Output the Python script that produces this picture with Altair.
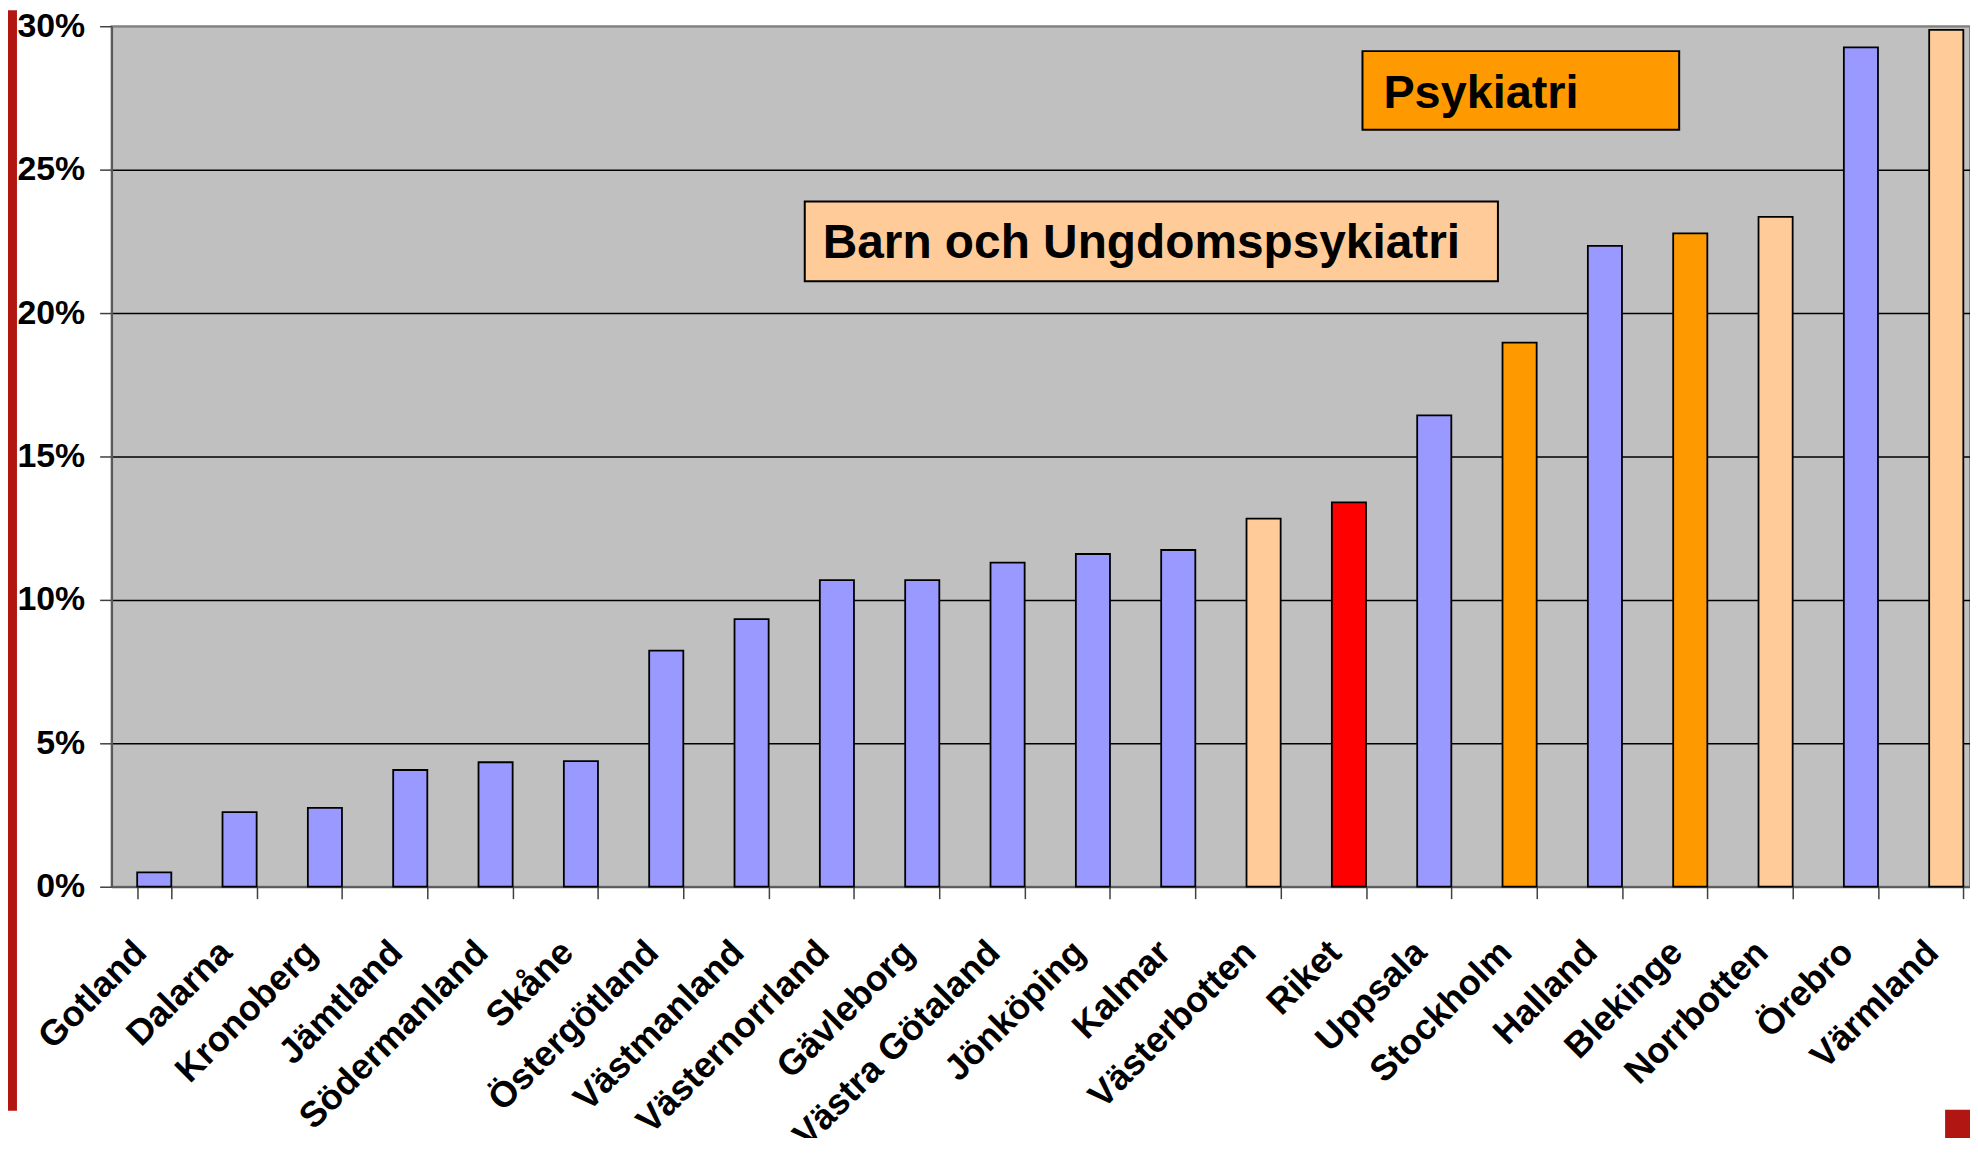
import altair as alt
import pandas as pd

regions = ["Gotland", "Dalarna", "Kronoberg", "Jämtland", "Södermanland", "Skåne",
           "Östergötland", "Västmanland", "Västernorrland", "Gävleborg", "Västra Götaland",
           "Jönköping", "Kalmar", "Västerbotten", "Riket", "Uppsala", "Stockholm",
           "Halland", "Blekinge", "Norrbotten", "Örebro", "Värmland"]
values = [0.005, 0.026, 0.0275, 0.0407, 0.0434, 0.0438,
          0.0823, 0.0933, 0.1069, 0.1069, 0.113,
          0.116, 0.1174, 0.1283, 0.134, 0.1643, 0.1897,
          0.2234, 0.2278, 0.2335, 0.2926, 0.2987]
groups = ["Övrig", "Övrig", "Övrig", "Övrig", "Övrig", "Övrig",
          "Övrig", "Övrig", "Övrig", "Övrig", "Övrig",
          "Övrig", "Övrig", "BUP", "Riket", "Övrig", "Psykiatri",
          "Övrig", "Psykiatri", "BUP", "Övrig", "BUP"]
group_colors = {"Övrig": "#9999FF", "BUP": "#FFCC99", "Psykiatri": "#FF9900", "Riket": "#FF0000"}
y_ticks = [0, 0.05, 0.10, 0.15, 0.20, 0.25, 0.30]

df = pd.DataFrame({"region": regions, "value": values, "group": groups})
df["color"] = df["group"].map(group_colors)

FONT = "Liberation Sans"

bars = alt.Chart(df).mark_bar(stroke="black", strokeWidth=1.8).encode(
    x=alt.X("region:N", sort=regions,
            scale=alt.Scale(paddingInner=0.6, paddingOuter=0.3, range=[0, 1885]),
            axis=alt.Axis(title=None, labelAngle=-45, labelAlign="right", labelBaseline="top",
                          labelFontSize=36, labelFontWeight="bold", labelFont=FONT,
                          labelColor="black", labelPadding=36, labelOffset=-26,
                          labelLimit=500, labelOverlap=False,
                          tickBand="extent", tickSize=12, tickColor="#404040", tickWidth=1.5,
                          domainColor="#595959", domainWidth=2)),
    y=alt.Y("value:Q",
            scale=alt.Scale(domain=[0, 0.30], nice=False),
            axis=alt.Axis(title=None, values=y_ticks, format=".0%",
                          labelFontSize=34, labelFontWeight="bold", labelFont=FONT,
                          labelColor="black", labelPadding=15,
                          tickSize=12, tickColor="#404040", tickWidth=1.5,
                          domainColor="#595959", domainWidth=2,
                          grid=True,
                          gridColor={"condition": {"test": "datum.value >= 0.3 || datum.value <= 0",
                                                   "value": "#808080"}, "value": "black"},
                          gridWidth=1.5, gridOpacity=1)),
    color=alt.Color("color:N", scale=None),
)

one = pd.DataFrame({"k": [0]})

psyk_box = alt.Chart(one).mark_rect(fill="#FF9900", stroke="black", strokeWidth=2).encode(
    x=alt.value(1256), x2=alt.value(1574), y=alt.value(25), y2=alt.value(104))
psyk_text = alt.Chart(pd.DataFrame({"t": ["Psykiatri"]})).mark_text(
    align="left", baseline="alphabetic", fontSize=47, fontWeight="bold", font=FONT, color="black"
).encode(x=alt.value(1277), y=alt.value(82), text="t:N")

bup_box = alt.Chart(one).mark_rect(fill="#FFCC99", stroke="black", strokeWidth=2).encode(
    x=alt.value(696), x2=alt.value(1392), y=alt.value(176), y2=alt.value(256))
bup_text = alt.Chart(pd.DataFrame({"t": ["Barn och Ungdomspsykiatri"]})).mark_text(
    align="left", baseline="alphabetic", fontSize=48, fontWeight="bold", font=FONT, color="black"
).encode(x=alt.value(714), y=alt.value(233), text="t:N")

red_left = alt.Chart(one).mark_rect(fill="#B21613").encode(
    x=alt.value(-104), x2=alt.value(-95), y=alt.value(-16), y2=alt.value(1089))
red_corner = alt.Chart(one).mark_rect(fill="#B21613").encode(
    x=alt.value(1841), x2=alt.value(1866), y=alt.value(1088), y2=alt.value(1140))

chart = alt.layer(bars, bup_box, bup_text, psyk_box, psyk_text, red_left, red_corner).properties(
    width=1866, height=864,
    autosize=alt.AutoSizeParams(type="none"),
    padding={"left": 104, "right": 0, "top": 16, "bottom": 250},
).configure(
    background="white"
).configure_view(
    fill="#C0C0C0", stroke="#808080", strokeWidth=2
)

chart.save("out.html", embed_options={"renderer": "svg", "actions": False})
